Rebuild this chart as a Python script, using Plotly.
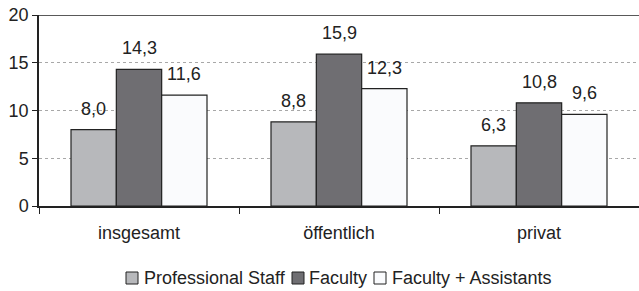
import plotly.graph_objects as go

categories = ["insgesamt", "öffentlich", "privat"]
professional_staff = [8.0, 8.8, 6.3]
faculty = [14.3, 15.9, 10.8]
faculty_assistants = [11.6, 12.3, 9.6]
series_names = ["Professional Staff", "Faculty", "Faculty + Assistants"]
y_ticks = [0, 5, 10, 15, 20]

colors = ["#b7b8bb", "#6f6e72", "#fafbfd"]
FONT = "Liberation Sans"
TXT = "#222222"

W, H = 639, 291
L, R, T, B = 39, 0, 15, 85
PW, PH = W - L - R, H - T - B

def px(x):
    return (x - L) / PW

def py(y):
    return (H - B - y) / PH

fig = go.Figure()
all_vals = [professional_staff, faculty, faculty_assistants]
for name, vals, col in zip(series_names, all_vals, colors):
    fig.add_trace(go.Bar(
        x=categories, y=vals, name=name,
        marker=dict(color=col, line=dict(color="#222222", width=1.2)),
        showlegend=False, hoverinfo="skip",
    ))

# value labels
bar_px = PW / len(categories) * (1 - 0.32) / 3
for i, vals in enumerate(all_vals):
    for c, v in zip(categories, vals):
        fig.add_annotation(x=c, y=v, xref="x", yref="y", text=f"{v:.1f}".replace(".", ","),
                           showarrow=False, yanchor="bottom", xanchor="center",
                           xshift=(i - 1) * bar_px, yshift=9,
                           font=dict(family=FONT, size=18, color=TXT))

# top border line at 20
fig.add_shape(type="line", xref="paper", yref="y", x0=0, x1=1, y0=20, y1=20,
              line=dict(color="#222222", width=1.5))

# custom legend
sq_x = [126, 292, 374]
txt_x = [142, 307, 390]
for name, col, sx, tx in zip(series_names, colors, sq_x, txt_x):
    fig.add_shape(type="rect", xref="paper", yref="paper",
                  x0=px(sx), x1=px(sx + 12), y0=py(284), y1=py(272),
                  fillcolor=col, line=dict(color="#222222", width=1))
    fig.add_annotation(xref="paper", yref="paper", x=px(tx), y=py(278), text=name,
                       showarrow=False, xanchor="left", yanchor="middle",
                       font=dict(family=FONT, size=18, color=TXT))

fig.update_layout(
    width=W, height=H,
    margin=dict(l=L, r=R, t=T, b=B, autoexpand=False),
    paper_bgcolor="white", plot_bgcolor="white",
    barmode="group", bargap=0.32, bargroupgap=0,
    font=dict(family=FONT, size=18, color=TXT),
    showlegend=False,
    yaxis=dict(range=[0, 20], tickvals=y_ticks, showgrid=True, gridcolor="#a8a8a8",
               griddash="dot", gridwidth=1, showline=True, linecolor="#222222",
               linewidth=1.5, ticks="outside", ticklen=5, tickcolor="#222222",
               tickfont=dict(family=FONT, size=18, color=TXT), zeroline=False,
               automargin=False),
    xaxis=dict(showline=True, linecolor="#222222", linewidth=1.5, ticks="outside",
               tickson="boundaries", ticklen=6, tickcolor="#222222",
               tickfont=dict(family=FONT, size=18, color=TXT), automargin=False,
               ticklabelstandoff=10),
)

fig.write_html("out.html", config={"displayModeBar": False},
               post_script="document.body.style.margin='0';")
